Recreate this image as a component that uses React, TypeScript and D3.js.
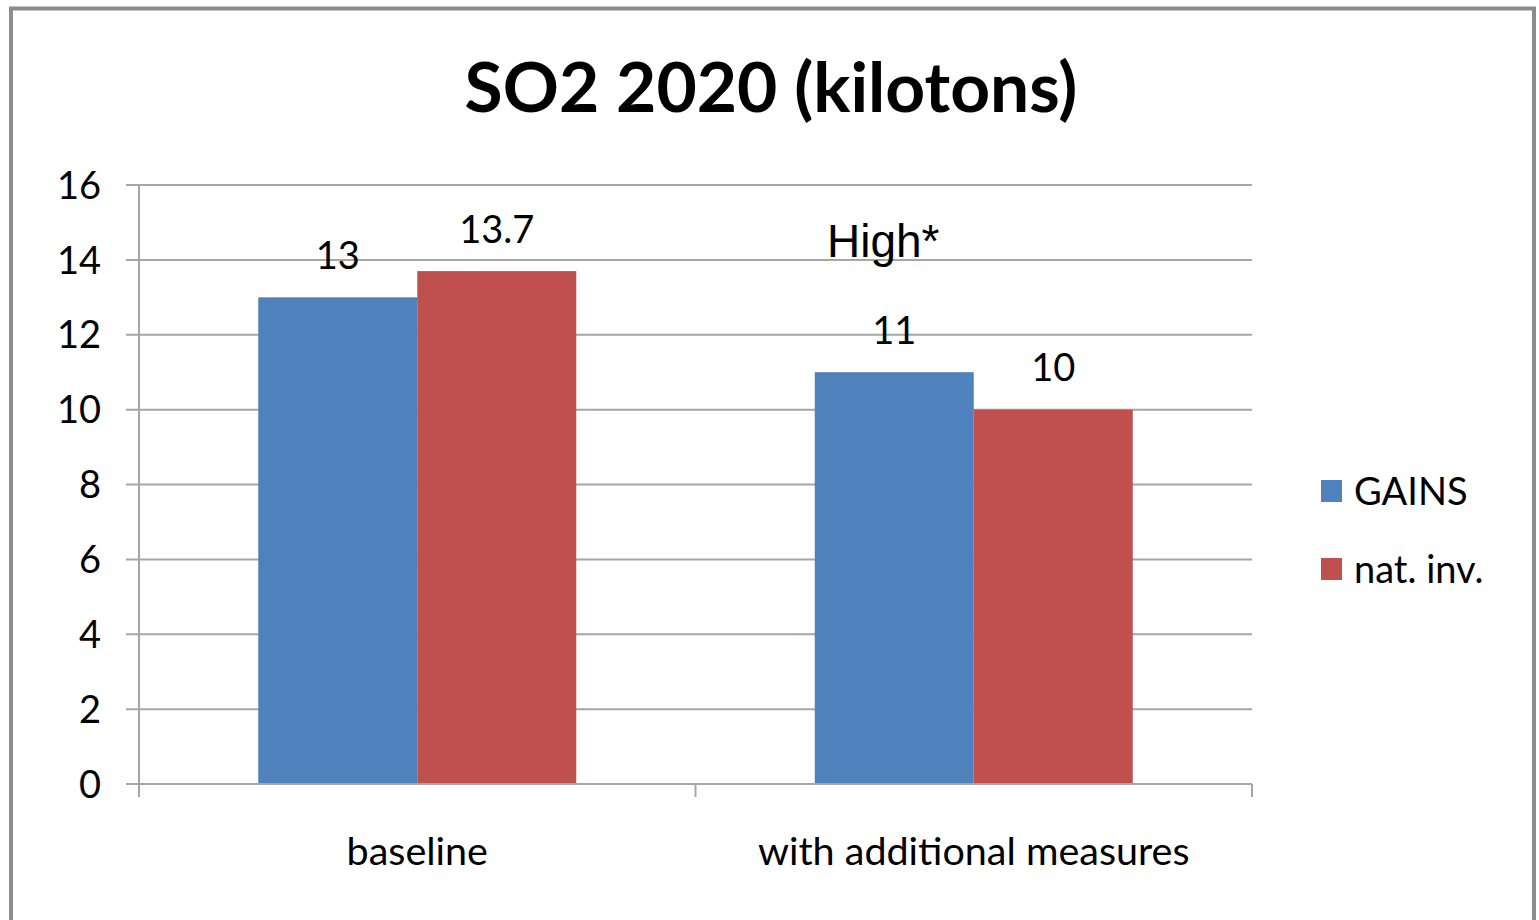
import React from "react";
import * as d3 from "d3";

const categories = ["baseline", "with additional measures"];
const seriesNames = ["GAINS", "nat. inv."];
const gainsValues = [13, 11];
const natInvValues = [13.7, 10];
const labelsGains = ["13", "11"];
const labelsNat = ["13.7", "10"];
const yTicks = [0, 2, 4, 6, 8, 10, 12, 14, 16];
const colors = ["#4F81BD", "#C0504D"];

const W = 1539;
const H = 920;
const FONT = "Lato, 'Open Sans', sans-serif";

export default function App() {
  const left = 139, right = 1252, top = 185, bottom = 784;
  const y = d3.scaleLinear().domain([0, 16]).range([bottom, top]);
  const x0 = d3.scaleBand<string>().domain(categories).range([left, right]).paddingInner(0).paddingOuter(0);
  const x1 = d3.scaleBand<string>().domain(seriesNames).range([0, x0.bandwidth()]).paddingOuter(0.75).paddingInner(0);
  const series = [gainsValues, natInvValues];
  const labels = [labelsGains, labelsNat];
  const gridColor = "#a6a6a6";
  return (
    <svg width={W} height={H} style={{ position: "absolute", left: 0, top: 0, background: "#fff" }}>
      <rect x={0} y={0} width={W} height={H} fill="#fff" />
      <path d={`M11,${H + 10} V8.5 H1534 V${H + 10}`} fill="none" stroke="#8c8c8c" strokeWidth={4} />
      <text x={771} y={112} textAnchor="middle" fontFamily={FONT} fontWeight={700} fontSize={69.5} fill="#000">
        SO2 2020 (kilotons)
      </text>
      {yTicks.map((t) => (
        <g key={t}>
          <line x1={126} x2={right} y1={y(t)} y2={y(t)} stroke={gridColor} strokeWidth={2} />
          <text x={101} y={y(t)} dy="0.36em" textAnchor="end" fontFamily={FONT} fontSize={38} fill="#000">
            {t}
          </text>
        </g>
      ))}
      {categories.map((c, ci) =>
        seriesNames.map((s, si) => {
          const v = series[si][ci];
          const bx = (x0(c) as number) + (x1(s) as number);
          return (
            <g key={c + s}>
              <rect x={bx} y={y(v)} width={x1.bandwidth()} height={bottom - y(v)} fill={colors[si]} />
              <text x={bx + x1.bandwidth() / 2} y={y(v) - 42} dy="0.36em" textAnchor="middle" fontFamily={FONT} fontSize={38} fill="#000">
                {labels[si][ci]}
              </text>
            </g>
          );
        })
      )}
      <line x1={left} x2={left} y1={top} y2={797} stroke={gridColor} strokeWidth={2} />
      <line x1={left} x2={right} y1={bottom} y2={bottom} stroke={gridColor} strokeWidth={2} />
      {[0, 1, 2].map((i) => {
        const xx = left + (i * (right - left)) / 2;
        return <line key={i} x1={xx} x2={xx} y1={bottom} y2={797} stroke={gridColor} strokeWidth={2} />;
      })}
      {categories.map((c) => (
        <text key={c} x={(x0(c) as number) + x0.bandwidth() / 2} y={851} dy="0.36em" textAnchor="middle" fontFamily={FONT} fontSize={39.5} fill="#000">
          {c}
        </text>
      ))}
      <text x={827} y={257} fontFamily="'Liberation Sans', Arial, sans-serif" fontSize={46} fill="#000">
        High*
      </text>
      {seriesNames.map((s, i) => (
        <g key={s}>
          <rect x={1321} y={480 + i * 78} width={21} height={22} fill={colors[i]} />
          <text x={1354} y={491 + i * 78} dy="0.36em" fontFamily={FONT} fontSize={38} fill="#000">
            {s}
          </text>
        </g>
      ))}
    </svg>
  );
}
